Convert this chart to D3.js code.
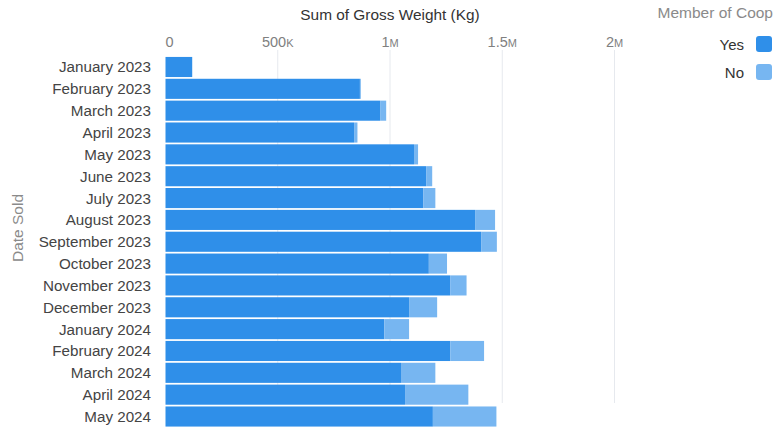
<!DOCTYPE html>
<html>
<head>
<meta charset="utf-8">
<script src="https://cdn.jsdelivr.net/npm/d3@7"></script>
<style>
  body { margin: 0; background: #fff; }
  text { font-family: "Liberation Sans", Arial, sans-serif; }
</style>
</head>
<body>
<script>
// months on the y axis
var months = ["January 2023", "February 2023", "March 2023", "April 2023", "May 2023",
    "June 2023", "July 2023", "August 2023", "September 2023", "October 2023",
    "November 2023", "December 2023", "January 2024", "February 2024", "March 2024",
    "April 2024", "May 2024"];

// gross weight (kg) by coop membership
var yesValues = [119000, 866000, 956000, 840000, 1107000, 1161000, 1149000, 1379000, 1406000,
    1173000, 1268000, 1085000, 975000, 1269000, 1049000, 1067000, 1191000];
var noValues = [0, 4000, 27000, 15000, 18000, 27000, 53000, 89000, 70000,
    81000, 73000, 125000, 110000, 150000, 153000, 282000, 283000];

var seriesNames = ["Yes", "No"];
var tickValues = [0, 500000, 1000000, 1500000, 2000000];

var width = 774,
    height = 429;

var svg = d3.select("body")
    .append("svg")
    .attr("width", width)
    .attr("height", height);

var x = d3.scaleLinear()
    .domain([0, 2000000])
    .range([165.5, 614.5]);

var y = d3.scaleBand()
    .domain(months)
    .range([56.5, 427])
    .paddingInner(0.08)
    .paddingOuter(0.02);

var color = d3.scaleOrdinal()
    .domain(seriesNames)
    .range(["#2f8fe9", "#77b6f1"]);

//gridlines
svg.selectAll(".grid")
    .data(tickValues.slice(1))
    .enter()
    .append("line")
    .attr("x1", function(d){ return x(d); })
    .attr("x2", function(d){ return x(d); })
    .attr("y1", 50)
    .attr("y2", 403)
    .attr("stroke", "#e6e9ee")
    .attr("stroke-width", 1);

//tick labels, with the small-caps looking K / M
var ticks = svg.selectAll(".tick")
    .data(tickValues)
    .enter()
    .append("text")
    .attr("x", function(d){ return d === 0 ? x(d) + 4 : x(d); })
    .attr("y", 47)
    .attr("text-anchor", "middle")
    .attr("fill", "#808080")
    .attr("font-size", 14.5);

ticks.append("tspan").text(function(d){
    if (d === 0) return "0";
    if (d < 1000000) return d / 1000;
    return d / 1000000;
});
ticks.append("tspan")
    .attr("font-size", 11)
    .text(function(d){
        if (d === 0) return "";
        return d < 1000000 ? "K" : "M";
    });

//stacked bars
var rows = months.map(function(m, i){
    return { month: m, Yes: yesValues[i], No: noValues[i] };
});
var stack = d3.stack().keys(seriesNames)(rows);

svg.selectAll(".series")
    .data(stack)
    .enter()
    .append("g")
    .attr("fill", function(d){ return color(d.key); })
    .selectAll("rect")
    .data(function(d){ return d; })
    .enter()
    .append("rect")
    .attr("x", function(d){ return x(d[0]); })
    .attr("y", function(d){ return y(d.data.month); })
    .attr("width", function(d){ return Math.max(0, x(d[1]) - x(d[0])); })
    .attr("height", y.bandwidth());

//month labels
svg.selectAll(".month")
    .data(months)
    .enter()
    .append("text")
    .attr("x", 151)
    .attr("y", function(d){ return y(d) + y.bandwidth() / 2 + 5.5; })
    .attr("text-anchor", "end")
    .attr("fill", "#444")
    .attr("font-size", 15.2)
    .text(function(d){ return d; });

//axis titles
svg.append("text")
    .attr("x", 390)
    .attr("y", 20)
    .attr("text-anchor", "middle")
    .attr("fill", "#333")
    .attr("font-size", 15.4)
    .text("Sum of Gross Weight (Kg)");

svg.append("text")
    .attr("transform", "translate(23,228) rotate(-90)")
    .attr("text-anchor", "middle")
    .attr("fill", "#8a8a8a")
    .attr("font-size", 15.5)
    .text("Date Sold");

//legend
svg.append("text")
    .attr("x", 773)
    .attr("y", 18)
    .attr("text-anchor", "end")
    .attr("fill", "#8a8a8a")
    .attr("font-size", 15.5)
    .text("Member of Coop");

var legend = svg.selectAll(".legend")
    .data(seriesNames)
    .enter()
    .append("g")
    .attr("transform", function(d, i){ return "translate(0," + (44 + i * 28) + ")"; });

legend.append("rect")
    .attr("x", 756)
    .attr("y", -8)
    .attr("width", 16)
    .attr("height", 16)
    .attr("rx", 3)
    .attr("fill", function(d){ return color(d); });

legend.append("text")
    .attr("x", 744)
    .attr("y", 5.5)
    .attr("text-anchor", "end")
    .attr("fill", "#333")
    .attr("font-size", 15)
    .text(function(d){ return d; });
</script>
</body>
</html>
